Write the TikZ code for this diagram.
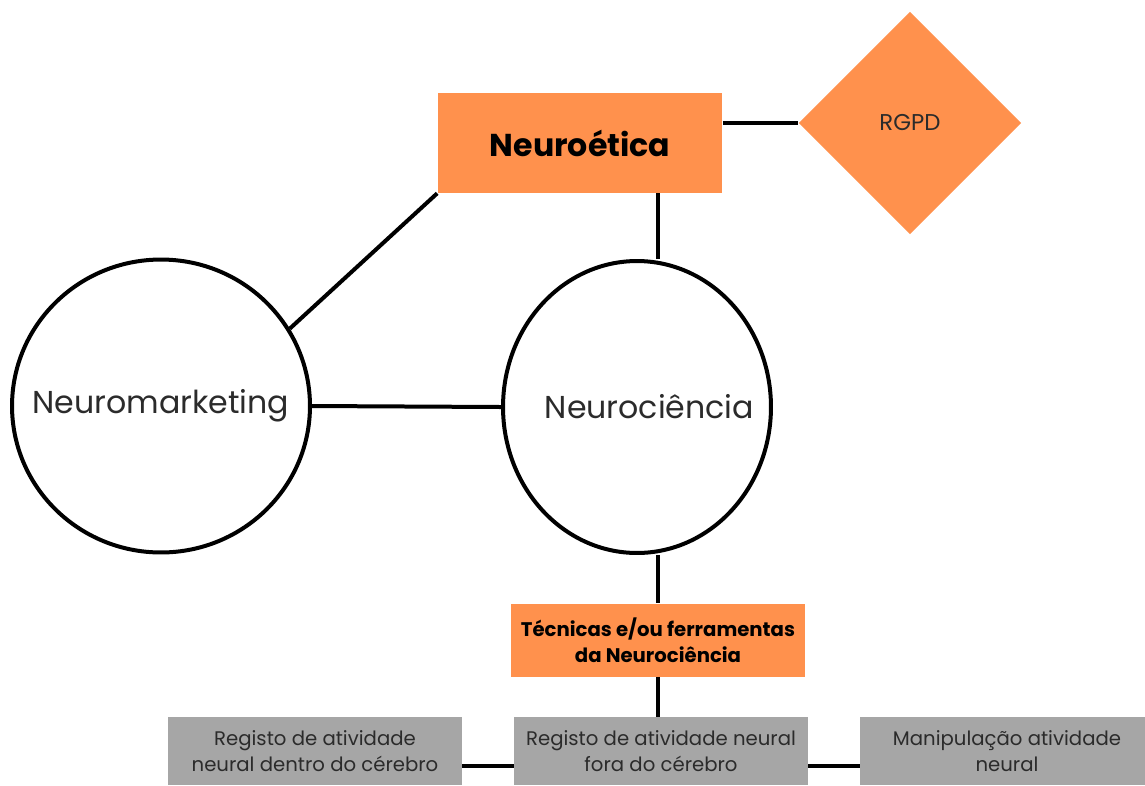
\documentclass[tikz,border=0pt]{standalone}
\usepackage{fontspec}
\setmainfont{Poppins}
\usepackage{tikz}
\usetikzlibrary{shapes.geometric}
\definecolor{laranja}{HTML}{FF914D}
\definecolor{cinzaCaixa}{HTML}{A6A6A6}
\definecolor{textoEscuro}{HTML}{2B2B2B}

\begin{document}
\begin{tikzpicture}[x=0.02cm,y=-0.02cm,
  liga/.style={line width=0.08cm},
  caixaLaranja/.style={fill=laranja,inner sep=0pt,align=center},
  caixaCinza/.style={fill=cinzaCaixa,text=textoEscuro,inner sep=0pt,align=center,
    minimum width=5.88cm,minimum height=1.36cm,font=\fontsize{11.2}{14.5}\selectfont},
  circulo/.style={ellipse,draw,line width=0.08cm,inner sep=0pt,text=textoEscuro,
    font=\fontsize{18}{21}\selectfont}]
\useasboundingbox (0,0) rectangle (1145,785);
% topo
\node[caixaLaranja,minimum width=5.7cm,minimum height=2cm,font=\bfseries\fontsize{18}{21}\selectfont] (neuroetica) at (580,143) {Neuroética};
\node[diamond,fill=laranja,minimum size=4.45cm,inner sep=0pt,text=textoEscuro,font=\fontsize{13}{15}\selectfont] (rgpd) at (910,123) {RGPD};
% circulos
\node[circulo,minimum width=5.96cm,minimum height=5.86cm] (neuromkt) at (161,406) {\makebox[0pt]{\raisebox{-0.1cm}{Neuromarketing}}};
\node[circulo,minimum width=5.36cm,minimum height=5.84cm] (neurociencia) at (637,407) {\makebox[0pt]{\hspace{0.5cm}\raisebox{-0.1cm}{Neurociência}}};
% tecnicas
\node[caixaLaranja,minimum width=5.9cm,minimum height=1.46cm,font=\bfseries\fontsize{11.2}{14.5}\selectfont] (tecnicas) at (658,640) {Técnicas e/ou ferramentas\\da Neurociência};
\node[caixaCinza] (dentro) at (315,751) {Registo de atividade\\neural dentro do cérebro};
\node[caixaCinza] (fora) at (661,751) {Registo de atividade neural\\fora do cérebro};
\node[caixaCinza] (manipulacao) at (1007,751) {Manipulação atividade\\neural};
% ligacoes
\draw[liga] (neuroetica.east |- rgpd.west) -- (rgpd.west);
\draw[liga] (neuroetica.south west) -- (neuromkt.31);
\draw[liga] (neuroetica.south -| tecnicas.north) -- (neurociencia.north -| tecnicas.north);
\draw[liga] (neuromkt.east) -- (neurociencia.west);
\draw[liga] (neurociencia.south -| tecnicas.north) -- (tecnicas.north);
\draw[liga] (tecnicas.south) -- (fora.north -| tecnicas.south);
\draw[liga] ([yshift=-0.3cm]dentro.east) -- ([yshift=-0.3cm]fora.west);
\draw[liga] ([yshift=-0.3cm]fora.east) -- ([yshift=-0.3cm]manipulacao.west);
\end{tikzpicture}
\end{document}
